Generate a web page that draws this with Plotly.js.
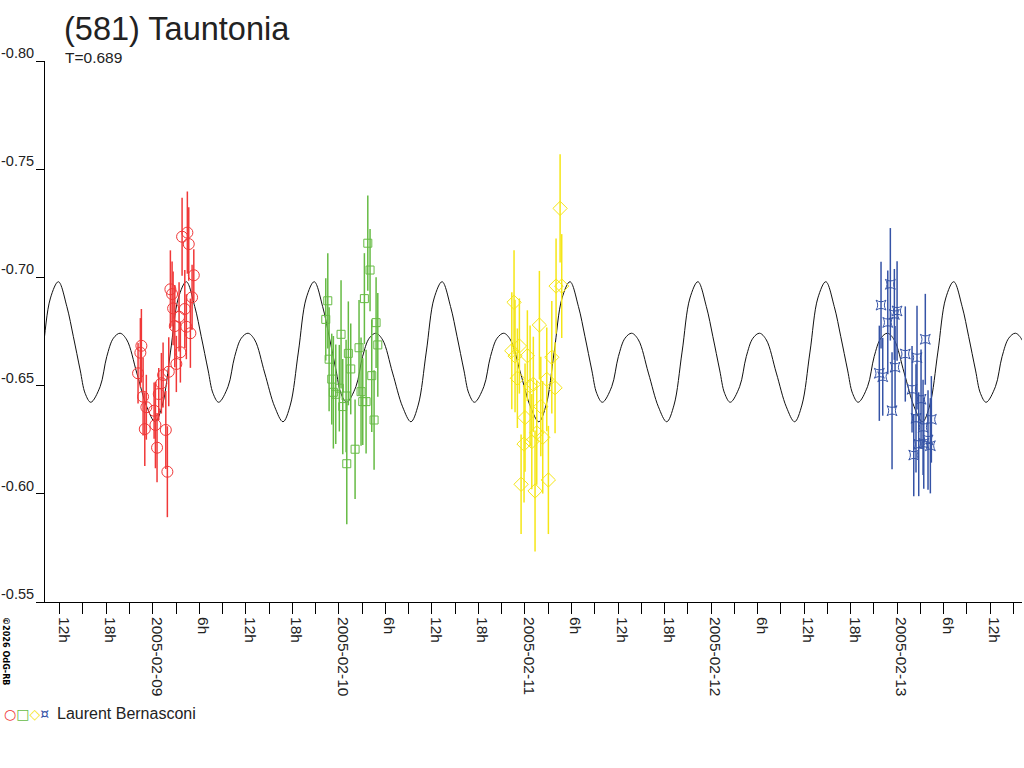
<!DOCTYPE html>
<html>
<head>
<meta charset="utf-8">
<script src="https://cdn.plot.ly/plotly-3.0.1.min.js"></script>
<style>html,body{margin:0;padding:0;background:#fff;}#chart{width:1024px;height:768px;}</style>
</head>
<body>
<div id="chart"></div>
<script>
// ---- Data (hours relative to 2005-02-09 00:00 UT, magnitudes) ----
const redHours = [-1.47,-1.60,-1.90,-1.25,-0.83,-1.03,0.17,0.34,0.55,0.77,1.33,1.11,1.68,1.88,2.06,3.04,2.27,2.49,2.62,2.84,3.39,3.56,4.13,4.33,3.78,4.46,4.64,5.29,5.07,4.85];
const redMag = [-0.6684,-0.6652,-0.6557,-0.6449,-0.6400,-0.6299,-0.6384,-0.6318,-0.6213,-0.6461,-0.6549,-0.6511,-0.6295,-0.6102,-0.6564,-0.6600,-0.6945,-0.6923,-0.6857,-0.6775,-0.6818,-0.6654,-0.6854,-0.6772,-0.7188,-0.7207,-0.7154,-0.7010,-0.6908,-0.6742];
const redErr = [0.017,0.016,0.014,0.018,0.015,0.017,0.013,0.020,0.016,0.012,0.015,0.014,0.018,0.021,0.016,0.013,0.018,0.015,0.017,0.019,0.016,0.014,0.018,0.015,0.018,0.019,0.017,0.012,0.015,0.016];

const greenHours = [22.57,22.31,22.74,23.08,23.29,23.60,24.06,24.28,24.50,25.02,25.22,25.53,24.93,26.09,26.60,26.86,27.08,27.51,27.29,27.73,28.02,28.24,28.54,28.80,29.02];
const greenMag = [-0.6892,-0.6806,-0.6622,-0.6530,-0.6469,-0.6460,-0.6488,-0.6737,-0.6403,-0.6139,-0.6649,-0.6577,-0.6452,-0.6206,-0.6675,-0.6472,-0.6426,-0.6426,-0.6902,-0.7158,-0.7034,-0.6546,-0.6341,-0.6791,-0.6688];
const greenErr = [0.022,0.019,0.024,0.021,0.026,0.023,0.020,0.025,0.022,0.028,0.024,0.021,0.026,0.023,0.022,0.025,0.020,0.024,0.021,0.022,0.019,0.026,0.023,0.021,0.024];

const yellowHours = [46.59,46.30,47.28,46.72,48.31,49.86,47.02,48.66,49.08,50.81,51.46,51.88,50.04,48.01,47.88,48.88,49.52,50.29,47.50,49.30,51.02,52.01,52.74,52.53];
const yellowMag = [-0.6885,-0.6661,-0.6683,-0.6637,-0.6638,-0.6780,-0.6534,-0.6498,-0.6506,-0.6529,-0.6631,-0.6490,-0.6403,-0.6352,-0.6230,-0.6241,-0.6282,-0.6261,-0.6044,-0.6013,-0.6064,-0.6960,-0.6960,-0.7319];
const yellowErr = [0.024,0.027,0.022,0.026,0.021,0.025,0.023,0.028,0.022,0.024,0.026,0.021,0.023,0.025,0.027,0.022,0.024,0.026,0.023,0.028,0.025,0.022,0.024,0.025];

const blueHours = [93.92,93.70,94.14,94.79,95.12,95.64,95.99,95.73,95.34,97.05,97.92,98.56,99.63,99.08,98.43,99.34,100.41,98.78,99.43,99.98,100.28,98.14];
const blueMag = [-0.6872,-0.6557,-0.6541,-0.6792,-0.6968,-0.6829,-0.6845,-0.6585,-0.6384,-0.6646,-0.6483,-0.6629,-0.6714,-0.6437,-0.6349,-0.6307,-0.6344,-0.6229,-0.6233,-0.6249,-0.6222,-0.6179];
const blueErr = [0.020,0.022,0.018,0.024,0.026,0.021,0.023,0.019,0.027,0.022,0.020,0.024,0.021,0.023,0.025,0.022,0.020,0.024,0.021,0.023,0.022,0.019];

// one period of the fitted lightcurve (phase 0 = main maximum)
const curvePhase = [0,0.066,0.117,0.170,0.209,0.253,0.326,0.378,0.430,0.482,0.535,0.613,0.691,0.756,0.813,0.876,0.938];
const curveMag = [-0.6980,-0.6865,-0.6726,-0.6572,-0.6464,-0.6423,-0.6495,-0.6634,-0.6719,-0.6742,-0.6711,-0.6558,-0.6402,-0.6333,-0.6410,-0.6655,-0.6905];
const curvePeriodH = 16.495;
const curveEpochH = -12.17;

const yTicks = [-0.80,-0.75,-0.70,-0.65,-0.60,-0.55];
const yTickText = ['-0.80','-0.75','-0.70','-0.65','-0.60','-0.55'];
const xTickHours = [-12,-6,0,6,12,18,24,30,36,42,48,54,60,66,72,78,84,90,96,102,108];
const xTickText = ['12h','18h','2005-02-09','6h','12h','18h','2005-02-10','6h','12h','18h','2005-02-11','6h','12h','18h','2005-02-12','6h','12h','18h','2005-02-13','6h','12h'];
const xMinorHours = [-9,-3,3,9,15,21,27,33,39,45,51,57,63,69,75,81,87,93,99,105,111];
const xRange = [-13.9, 112.1];

// ---- build curve by repeating the read period ----
const cx = [], cy = [];
for (let k = -1; k <= 8; k++) {
  for (let i = 0; i < curvePhase.length; i++) {
    const h = curveEpochH + (k + curvePhase[i]) * curvePeriodH;
    if (h >= xRange[0] - 3 && h <= xRange[1] + 3) { cx.push(h); cy.push(curveMag[i]); }
  }
}

function series(x, y, e, color, symbol, size) {
  return {
    x: x, y: y, type: 'scatter', mode: 'markers', showlegend: false, cliponaxis: true,
    marker: {symbol: symbol, size: size, color: color, line: {color: color, width: 1}},
    error_y: {type: 'data', array: e, visible: true, color: color, thickness: 1.5, width: 0}
  };
}

const traces = [
  {x: cx, y: cy, type: 'scatter', mode: 'lines', line: {color: '#111', width: 1, shape: 'spline', smoothing: 1}, showlegend: false, hoverinfo: 'skip'},
  series(redHours, redMag, redErr, '#f03838', 'circle-open', 11),
  series(greenHours, greenMag, greenErr, '#66bb44', 'square-open', 8),
  series(yellowHours, yellowMag, yellowErr, '#f5e616', 'diamond-open', 11),
  series(blueHours, blueMag, blueErr, '#3553a6', 'star-square-open', 9)
];

const F = 'Liberation Sans, Arial, sans-serif';
const layout = {
  width: 1024, height: 768,
  margin: {l: 45, r: 2, t: 61, b: 166},
  paper_bgcolor: '#fff', plot_bgcolor: '#fff',
  showlegend: false,
  title: {text: '(581) Tauntonia', xref: 'container', yref: 'container', x: 64/1024, xanchor: 'left', y: 1 - 29/768, yanchor: 'middle', font: {family: F, size: 32.5, color: '#222'}},
  xaxis: {
    range: xRange, tickmode: 'array', tickvals: xTickHours, ticktext: xTickText,
    tickangle: 90, ticks: 'outside', ticklen: 11, tickcolor: '#000', tickwidth: 1,
    showline: true, linecolor: '#000', linewidth: 1, showgrid: false, zeroline: false,
    tickfont: {family: F, size: 15.5, color: '#222'}, ticklabelshift: 4,
    minor: {tickmode: 'array', tickvals: xMinorHours, ticks: 'outside', ticklen: 11, tickcolor: '#000', tickwidth: 1, showgrid: false}
  },
  yaxis: {
    range: [-0.55, -0.80], tickmode: 'array', tickvals: yTicks, ticktext: yTickText,
    ticks: 'outside', ticklen: 8, tickcolor: '#000', tickwidth: 1,
    showline: true, linecolor: '#000', linewidth: 1, showgrid: false, zeroline: false,
    tickfont: {family: F, size: 14.5, color: '#222'}, ticklabelshift: 8, ticklabelstandoff: -1
  },
  annotations: [
    {text: 'T=0.689', xref: 'paper', yref: 'paper', x: (64-45)/977, y: 1 + (61-58)/541, xanchor: 'left', yanchor: 'middle', showarrow: false, borderpad: 0, font: {family: F, size: 15.5, color: '#222'}},
    {text: '<b>©2026 OdG-RB</b>', xref: 'paper', yref: 'paper', x: (6-45)/977, y: 1 - (651-61)/541, xanchor: 'center', yanchor: 'middle', textangle: 90, showarrow: false, borderpad: 0, font: {family: 'DejaVu Sans Condensed, DejaVu Sans', size: 9, color: '#000'}},
    {text: '<span style="color:#f03838">○</span><span style="color:#66bb44">□</span><span style="color:#f5e616">◇</span><span style="color:#3553a6">¤</span>', xref: 'paper', yref: 'paper', x: (3-45)/977, y: 1 - (714-61)/541, xanchor: 'left', yanchor: 'middle', showarrow: false, borderpad: 0, font: {family: 'DejaVu Sans', size: 14}},
    {text: 'Laurent Bernasconi', xref: 'paper', yref: 'paper', x: (56-45)/977, y: 1 - (713-61)/541, xanchor: 'left', yanchor: 'middle', showarrow: false, borderpad: 0, font: {family: F, size: 16, color: '#222'}}
  ]
};

Plotly.newPlot('chart', traces, layout, {staticPlot: true, displayModeBar: false});
</script>
</body>
</html>
